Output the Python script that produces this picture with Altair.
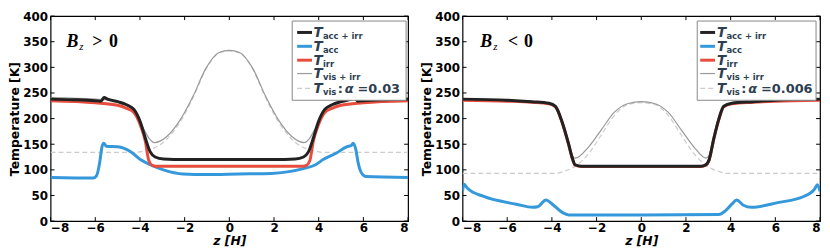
import altair as alt
import pandas as pd

# ---------------- data ----------------
x_ticks = [-8, -6, -4, -2, 0, 2, 4, 6, 8]
y_ticks = [0, 50, 100, 150, 200, 250, 300, 350, 400]

# Left panel: B_z > 0
zL_tot = [-8, -7, -6, -5.75, -5.6, -5.45, -5.0, -4.6, -4.27, -3.98, -3.76, -3.54, -3.32, -2.95, -2.0, 0,
          2.0, 2.95, 3.32, 3.54, 3.76, 3.98, 4.27, 4.6, 5.0, 5.45, 5.6, 5.75, 6, 7, 8]
TL_tot = [238, 237, 235, 234, 241, 238, 233, 227, 218, 193, 162, 135, 125, 121, 120, 120,
          120, 121, 125, 135, 162, 193, 218, 227, 233, 238, 241, 234, 235, 237, 238]

zL_irr = [-8, -6, -5, -4.6, -4.27, -3.98, -3.76, -3.61, -3.46, -3.3, 0,
          3.3, 3.46, 3.61, 3.76, 3.98, 4.27, 4.6, 5, 6, 8]
TL_irr = [235, 231, 226, 220, 212, 187, 156, 119, 109, 107, 107,
          107, 109, 119, 156, 187, 212, 220, 226, 231, 235]

zL_acc = [-8, -6.1, -5.95, -5.8, -5.7, -5.62, -5.5, -5.0, -4.4, -3.98, -3.54, -2.95, -2.07, -1.05, 0.42,
          1.88, 2.6, 3.35, 3.86, 4.2, 4.8, 5.25, 5.47, 5.54, 5.66, 5.76, 5.9, 6.1, 8]
TL_acc = [85, 84, 88, 115, 145, 152, 146, 145, 135, 120, 110, 100, 92, 91, 92,
          93, 96, 103, 110, 120, 133, 145, 148, 152, 140, 115, 95, 87, 85]

zL_visirr = [-8, -6, -5, -4.5, -4.2, -4.0, -3.8, -3.6, -3.34, -3.1, -2.8, -2.22, -1.63, -1.05, -0.46, 0,
             0.46, 1.05, 1.63, 2.22, 2.8, 3.1, 3.34, 3.6, 3.8, 4.0, 4.2, 4.5, 5, 6, 8]
TL_visirr = [241, 238, 234, 224, 210, 195, 177, 162, 153, 156, 165, 196, 243, 298, 329, 333,
             329, 298, 243, 196, 165, 156, 153, 162, 177, 195, 210, 224, 234, 238, 241]

zL_vis = [-8, -4.2, -3.9, -3.54, -3.0, -2.5, -2.22, -1.63, -1.05, -0.46, 0,
          0.46, 1.05, 1.63, 2.22, 2.5, 3.0, 3.54, 3.9, 4.2, 8]
TL_vis = [134, 134, 136, 140, 152, 175, 192, 240, 296, 328, 332,
          328, 296, 240, 192, 175, 152, 140, 136, 134, 134]

# Right panel: B_z < 0
zR_tot = [-8, -6, -4.9, -4.13, -3.84, -3.54, -3.25, -3.1, -2.96, -2.67, 0,
          2.67, 2.89, 3.03, 3.25, 3.47, 3.69, 4.05, 5, 6, 8]
TR_tot = [238, 236, 233, 230, 224, 193, 150, 125, 110, 107, 107,
          107, 110, 119, 162, 199, 224, 230, 233, 236, 238]
TR_irr = [236, 234, 232, 229, 223, 192, 149, 124, 109, 106.5, 106.5,
          106.5, 109, 118, 161, 198, 223, 229, 232, 234, 236]

zR_acc = [-8, -7.93, -7.78, -7.05, -5.59, -4.86, -4.64, -4.27, -3.98, -3.54, -3.25, 0,
          3.47, 3.76, 4.05, 4.27, 4.57, 4.93, 6.1, 7.27, 7.78, 7.88, 8]
TR_acc = [58, 72, 64, 48, 33, 27, 28, 41, 33, 17, 12, 12,
          13, 20, 33, 41, 31, 27, 36, 48, 64, 71, 58]

zR_visirr = [-8, -6, -4.9, -4.13, -3.84, -3.54, -3.25, -3.1, -2.96, -2.37, -1.79, -1.21, -0.62, 0,
             0.62, 1.21, 1.79, 2.37, 2.89, 3.03, 3.25, 3.47, 3.69, 4.05, 5, 6, 8]
TR_visirr = [238, 236, 233, 230, 224, 193, 150, 128, 123, 144, 178, 212, 229, 233,
             229, 212, 178, 144, 123, 128, 162, 199, 224, 230, 233, 236, 238]

zR_vis = [-8, -3.8, -3.54, -2.96, -2.37, -1.79, -1.21, -0.62, 0,
          0.62, 1.21, 1.79, 2.37, 2.96, 3.54, 3.8, 8]
TR_vis = [93, 93, 96, 107, 131, 168, 206, 227, 231,
          227, 206, 168, 131, 107, 96, 93, 93]

sub_labels = ["acc + irr", "acc", "irr", "vis + irr", "vis"]
alpha_labels = ["=0.03", "=0.006"]

# ---------------- styling ----------------
W, H = 361, 207
C_BLACK, C_BLUE, C_RED, C_GRAY, C_DASH = "#222222", "#3498db", "#e74c3c", "#999999", "#cccccc"
NAVY = "#2c3e50"
SANS = "DejaVu Sans"
SERIF = "Liberation Serif"

X = alt.X("z:Q", scale=alt.Scale(domain=[-8, 8], nice=False, zero=False),
          axis=alt.Axis(values=x_ticks, title="z [H]", titleFontStyle="italic",
                        labelPadding=2, titlePadding=1, format="d"))
Y = alt.Y("T:Q", scale=alt.Scale(domain=[0, 400], nice=False),
          axis=alt.Axis(values=y_ticks, title="Temperature [K]", labelPadding=3, titlePadding=1))


def line(z, t, color, width, dash=None):
    df = pd.DataFrame({"z": z, "T": t})
    kw = dict(color=color, strokeWidth=width, interpolate="monotone", clip=True)
    if dash:
        kw["strokeDash"] = dash
    return alt.Chart(df).mark_line(**kw).encode(x=X, y=Y)


one = pd.DataFrame({"a": [0]})


def txt(x, y, s, size, weight="bold", style="normal", font=SANS, color=NAVY, baseline="alphabetic"):
    return alt.Chart(one).mark_text(text=s, align="left", baseline=baseline, font=font, fontSize=size,
                                    fontWeight=weight, fontStyle=style, color=color).encode(
        x=alt.value(x), y=alt.value(y))


def ticks_layers():
    dfx = pd.DataFrame({"z": x_ticks})
    dfy = pd.DataFrame({"T": y_ticks})
    st = dict(color="black", strokeWidth=1)
    return [
        alt.Chart(dfx).mark_rule(**st).encode(x=X, y=alt.value(H - 4), y2=alt.value(H)),
        alt.Chart(dfx).mark_rule(**st).encode(x=X, y=alt.value(0), y2=alt.value(4)),
        alt.Chart(dfy).mark_rule(**st).encode(y=Y, x=alt.value(0), x2=alt.value(4)),
        alt.Chart(dfy).mark_rule(**st).encode(y=Y, x=alt.value(W - 4), x2=alt.value(W)),
    ]


def legend_layers(box_l, box_r, sym_l, sym_r, t_x, alpha_str):
    # offsets measured from the right edge of the plot
    lay = []
    lay.append(alt.Chart(one).mark_rect(fill="white", stroke="#888888", strokeWidth=1).encode(
        x=alt.value(W - box_l), x2=alt.value(W - box_r), y=alt.value(5), y2=alt.value(85)))
    rows = [16.5, 30.5, 44.5, 58, 73]
    styles = [(C_BLACK, 3, None), (C_BLUE, 3, None), (C_RED, 3, None), (C_GRAY, 1.2, None), (C_DASH, 1.2, [5, 3])]
    x0 = W - t_x
    for ry, (c, w, d), sub in zip(rows, styles, sub_labels):
        kw = dict(color=c, strokeWidth=w)
        if d:
            kw["strokeDash"] = d
        lay.append(alt.Chart(one).mark_rule(**kw).encode(
            x=alt.value(W - sym_l), x2=alt.value(W - sym_r), y=alt.value(ry)))
        lay.append(txt(x0, ry + 5, "T", 13.5, style="italic"))
        lay.append(txt(x0 + 9.5, ry + 7, sub, 8.5))
    ry = rows[-1]
    lay.append(txt(x0 + 24.5, ry + 5, ":", 13))
    lay.append(txt(x0 + 31.5, ry + 5, "\u03b1", 13, style="italic"))
    lay.append(txt(x0 + 44.5, ry + 5, alpha_str, 13))
    return lay


def bz_layers(bx, zx, opx, zerox, op):
    yc = 26 * H / 216
    return [
        txt(bx, yc + 6, "B", 18, weight="bold", style="italic", font=SERIF, color="black"),
        txt(zx, yc + 9, "z", 11, weight="normal", style="italic", font=SERIF, color="black"),
        txt(opx, yc + 6, op, 18, weight="bold", font=SERIF, color="black"),
        txt(zerox, yc + 6, "0", 18, weight="bold", font=SERIF, color="black"),
    ]


left = alt.layer(
    line(zL_vis, TL_vis, C_DASH, 1.2, [5, 3]),
    line(zL_visirr, TL_visirr, C_GRAY, 1.2),
    line(zL_acc, TL_acc, C_BLUE, 3),
    line(zL_irr, TL_irr, C_RED, 3),
    line(zL_tot, TL_tot, C_BLACK, 3),
    *ticks_layers(),
    *legend_layers(117, 2, 112, 97, 95.5, alpha_labels[0]),
    *bz_layers(16, 29, 42, 59, ">"),
).properties(width=W, height=H)

right = alt.layer(
    line(zR_vis, TR_vis, C_DASH, 1.2, [5, 3]),
    line(zR_visirr, TR_visirr, C_GRAY, 1.2),
    line(zR_acc, TR_acc, C_BLUE, 3),
    line(zR_tot, TR_irr, C_RED, 3),
    line(zR_tot, TR_tot, C_BLACK, 3),
    *ticks_layers(),
    *legend_layers(124, 4, 121, 106, 104, alpha_labels[1]),
    *bz_layers(18, 31, 46, 62, "<"),
).properties(width=W, height=H)

chart = alt.hconcat(left, right, spacing=10).properties(
    padding={"left": 0, "top": 0, "right": 0, "bottom": 0}
).configure_view(stroke="black", strokeWidth=1.2).configure_axis(
    grid=False, ticks=False, domain=False,
    labelFont=SANS, labelFontWeight="bold", labelFontSize=12, labelColor="black",
    titleFont=SANS, titleFontWeight="bold", titleFontSize=12.5, titleColor="black",
)

chart.save("out.html", embed_options={"renderer": "svg", "actions": False})
